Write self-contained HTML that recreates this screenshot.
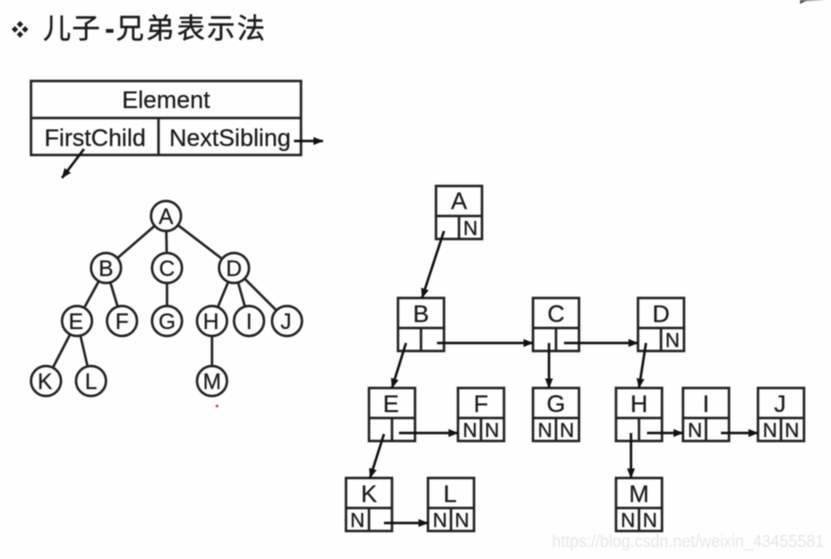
<!DOCTYPE html>
<html><head><meta charset="utf-8"><style>
html,body{margin:0;padding:0;background:#fefefe;width:831px;height:559px;overflow:hidden}
svg{display:block;filter:blur(.4px)}
text{font-family:"Liberation Sans","Noto Sans CJK SC",sans-serif;fill:#1c1c1c;text-anchor:middle;stroke:#1c1c1c;stroke-width:.25px}
.t{font-size:24px}.c{font-size:22px}.s{font-size:24px}.m{font-size:20px}
</style></head><body>
<svg width="831" height="559" viewBox="0 0 831 559" xmlns="http://www.w3.org/2000/svg">
<defs>
<marker id="a" markerUnits="userSpaceOnUse" markerWidth="10" markerHeight="9" refX="9.500" refY="4.500" orient="auto"><path d="M0 0.500L10 4.500L0 8.500z" fill="#111"/></marker>
<g id="b"><rect x="0" y="0" width="46" height="53" fill="none" stroke="#222" stroke-width="2.500"/><path d="M0 30H46M23 30V53" stroke="#222" stroke-width="2.500" fill="none"/></g>
</defs>
<path d="M800 4L806 1L825 0L800 0z" fill="#555"/>
<text x="43 72 105 116 146 177 207 237" y="38" style="font-size:28px;text-anchor:start;stroke-width:.4px">儿子<tspan style="font-weight:bold">-</tspan>兄弟表示法</text>
<text x="20" y="36" style="font-size:17px;stroke-width:.3px">❖</text>
<g fill="none" stroke="#222" stroke-width="2.500">
<rect x="31" y="81" width="270" height="74"/><path d="M31 118H301M158.500 118V155"/>
</g>
<text class="t" x="166" y="108">Element</text>
<text class="t" x="95" y="146">FirstChild</text>
<text class="t" x="230" y="146">NextSibling</text>
<g stroke="#111" stroke-width="2.500" fill="none">
<path d="M294 141H323" marker-end="url(#a)"/><path d="M84 149L62 178" marker-end="url(#a)"/>
</g>
<g stroke="#222" stroke-width="2.500" fill="none">
<path d="M166 216L106 268M166 216L167 268M166 216L234 268M106 268L77 321M106 268L122 321M167 268V321M234 268L212 321M234 268L249 321M234 268L287 321M77 321L46 381M77 321L91 381M212 321V381"/>
</g>
<g fill="#fefefe" stroke="#222" stroke-width="2.500">
<circle cx="166" cy="216" r="15"/><circle cx="106" cy="268" r="15"/><circle cx="167" cy="268" r="15"/><circle cx="234" cy="268" r="15"/>
<circle cx="77" cy="321" r="15"/><circle cx="122" cy="321" r="15"/><circle cx="167" cy="321" r="15"/><circle cx="212" cy="321" r="15"/><circle cx="249" cy="321" r="15"/><circle cx="287" cy="321" r="15"/>
<circle cx="46" cy="381" r="15"/><circle cx="91" cy="381" r="15"/><circle cx="212" cy="381" r="15"/>
</g>
<text class="c" x="166" y="224">A</text><text class="c" x="106" y="276">B</text><text class="c" x="167" y="276">C</text><text class="c" x="234" y="276">D</text>
<text class="c" x="76" y="329">E</text><text class="c" x="122" y="329">F</text><text class="c" x="167" y="329">G</text><text class="c" x="211" y="329">H</text><text class="c" x="249" y="329">I</text><text class="c" x="286" y="329">J</text>
<text class="c" x="45" y="389">K</text><text class="c" x="91" y="389">L</text><text class="c" x="212" y="389">M</text>
<circle cx="217" cy="406" r="1.300" fill="#d02040"/>
<use href="#b" x="436" y="186"/><use href="#b" x="398" y="298"/><use href="#b" x="533" y="298"/><use href="#b" x="638" y="298"/>
<use href="#b" x="369" y="388"/><use href="#b" x="458" y="388"/><use href="#b" x="533" y="388"/><use href="#b" x="616" y="388"/><use href="#b" x="683" y="388"/><use href="#b" x="758" y="388"/>
<use href="#b" x="346" y="478"/><use href="#b" x="428" y="478"/><use href="#b" x="616" y="478"/>
<text class="s" x="459" y="209">A</text><text class="s" x="421" y="322">B</text><text class="s" x="556" y="322">C</text><text class="s" x="661" y="322">D</text>
<text class="s" x="391" y="412">E</text><text class="s" x="481" y="412">F</text><text class="s" x="556" y="412">G</text><text class="s" x="639" y="412">H</text><text class="s" x="706" y="412">I</text><text class="s" x="780" y="412">J</text>
<text class="s" x="369" y="502">K</text><text class="s" x="450" y="502">L</text><text class="s" x="639" y="502">M</text>
<text class="m" x="470.500" y="235">N</text><text class="m" x="672.500" y="347">N</text>
<text class="m" x="470" y="437">N</text><text class="m" x="492" y="437">N</text>
<text class="m" x="545" y="437">N</text><text class="m" x="567" y="437">N</text>
<text class="m" x="695" y="437">N</text>
<text class="m" x="770" y="437">N</text><text class="m" x="792" y="437">N</text>
<text class="m" x="357.500" y="527">N</text>
<text class="m" x="440" y="527">N</text><text class="m" x="462" y="527">N</text>
<text class="m" x="628" y="527">N</text><text class="m" x="650" y="527">N</text>
<g stroke="#111" stroke-width="2.500" fill="none">
<path d="M444 231L422 298" marker-end="url(#a)"/>
<path d="M406 343L392 388" marker-end="url(#a)"/>
<path d="M437 343H533" marker-end="url(#a)"/>
<path d="M549 343V388" marker-end="url(#a)"/>
<path d="M564 343H638" marker-end="url(#a)"/>
<path d="M646 343L639 388" marker-end="url(#a)"/>
<path d="M399 433H458" marker-end="url(#a)"/>
<path d="M384 434L370 478" marker-end="url(#a)"/>
<path d="M384 523H428" marker-end="url(#a)"/>
<path d="M647 433H683" marker-end="url(#a)"/>
<path d="M721 433H758" marker-end="url(#a)"/>
<path d="M631 433V478" marker-end="url(#a)"/>
</g>
<text x="688" y="547" style="font-size:17.500px;fill:#e6e6e6;stroke:none" textLength="272" lengthAdjust="spacingAndGlyphs">https://blog.csdn.net/weixin_43455581</text>
</svg>
</body></html>
